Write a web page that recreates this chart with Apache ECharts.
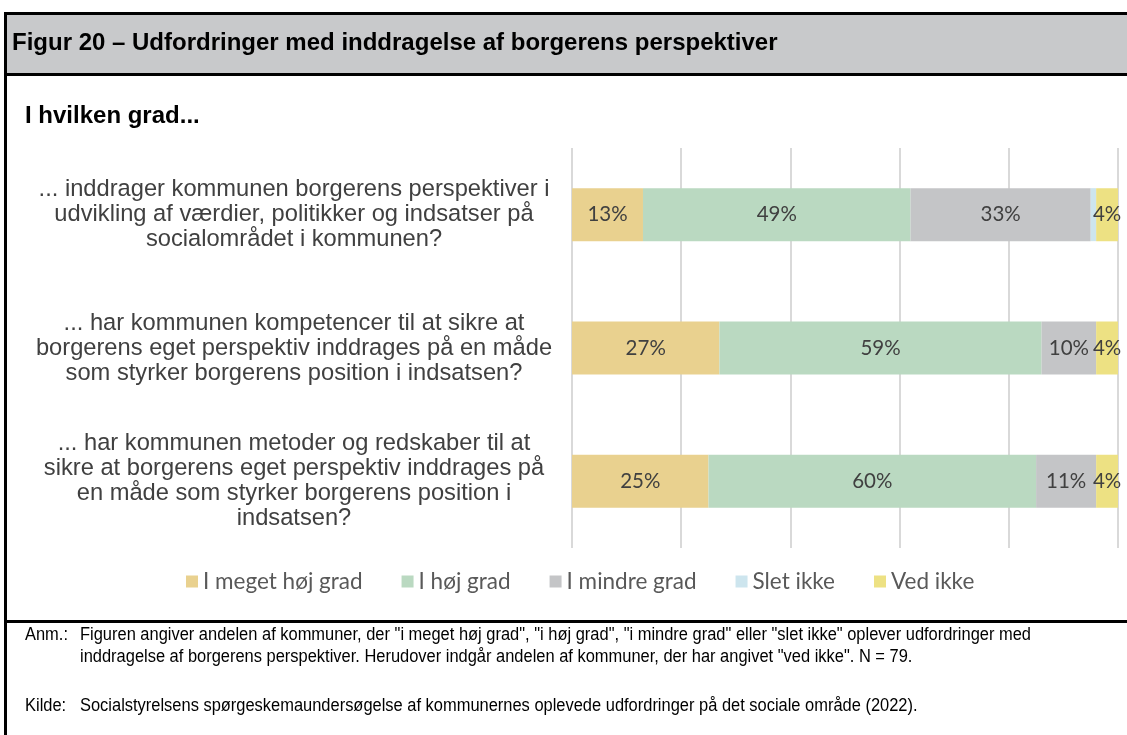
<!DOCTYPE html>
<html>
<head>
<meta charset="utf-8">
<style>
  html, body { margin: 0; padding: 0; background: #fff; }
  #chart-container { width: 1127px; height: 735px; }
</style>
<script src="https://cdn.jsdelivr.net/npm/echarts@6/dist/echarts.min.js"></script>
</head>
<body>
<div id="chart-container"></div>
<script>
var questions = [
    '... inddrager kommunen borgerens perspektiver i\nudvikling af værdier, politikker og indsatser på\nsocialområdet i kommunen?',
    '... har kommunen kompetencer til at sikre at\nborgerens eget perspektiv inddrages på en måde\nsom styrker borgerens position i indsatsen?',
    '... har kommunen metoder og redskaber til at\nsikre at borgerens eget perspektiv inddrages på\nen måde som styrker borgerens position i\nindsatsen?'
];
var seriesNames = ['I meget høj grad', 'I høj grad', 'I mindre grad', 'Slet ikke', 'Ved ikke'];
var megetHoej = [13, 27, 25];
var hoej = [49, 59, 60];
var mindre = [33, 10, 11];
var sletIkke = [1, 0, 0];
var vedIkke = [4, 4, 4];
var seriesValues = [megetHoej, hoej, mindre, sletIkke, vedIkke];
var colors = ['#E9D18F', '#BAD9C1', '#C4C5C7', '#CDE5EE', '#EDE183'];

var dom = document.getElementById('chart-container');
var myChart = echarts.init(dom, null, { renderer: 'canvas' });

var series = seriesNames.map(function (name, i) {
    return {
        name: name,
        type: 'bar',
        stack: 'total',
        barWidth: 53,
        data: seriesValues[i],
        itemStyle: { color: colors[i] },
        label: {
            show: true,
            position: 'inside',
            fontFamily: 'Lato',
            fontSize: 20.5,
            color: '#404040',
            formatter: function (p) { return p.value >= 2 ? p.value + '%' : ''; }
        }
    };
});

// footnote text, drawn a bit narrow like the original
function note(x, y, text) {
    return {
        type: 'text', x: x, y: y, scaleX: 0.94,
        style: { text: text, x: 0, y: 0, fontFamily: 'Liberation Sans', fontSize: 17.5, lineHeight: 22, fill: '#000' }
    };
}

var option = {
    animation: false,
    color: colors,
    grid: { left: 572, right: 9, top: 148, bottom: 187 },
    legend: {
        left: 181,
        top: 565,
        itemWidth: 12,
        itemHeight: 12,
        itemGap: 39,
        icon: 'rect',
        textStyle: { fontFamily: 'Lato', fontSize: 22.5, color: '#595959' },
        data: seriesNames
    },
    xAxis: {
        type: 'value',
        min: 0,
        max: 100,
        interval: 20,
        axisLabel: { show: false },
        axisLine: { show: false },
        axisTick: { show: false },
        splitLine: { lineStyle: { color: '#D9D9D9', width: 2 } }
    },
    yAxis: {
        type: 'category',
        inverse: true,
        data: questions,
        axisLine: { show: false },
        axisTick: { show: false },
        axisLabel: {
            align: 'center',
            margin: 278,
            fontFamily: 'Liberation Sans',
            fontSize: 23.7,
            lineHeight: 25,
            color: '#404040'
        }
    },
    graphic: [
        { type: 'rect', shape: { x: 5, y: 13, width: 1130, height: 61 }, style: { fill: '#C8C9CB' } },
        { type: 'rect', shape: { x: 4, y: 12, width: 1130, height: 3 }, style: { fill: '#000' } },
        { type: 'rect', shape: { x: 4, y: 73, width: 1130, height: 3 }, style: { fill: '#000' } },
        { type: 'rect', shape: { x: 4, y: 12, width: 3, height: 730 }, style: { fill: '#000' } },
        { type: 'rect', shape: { x: 4, y: 620, width: 1130, height: 3 }, style: { fill: '#000' } },
        { type: 'text', left: 12, top: 31, style: { text: 'Figur 20 – Udfordringer med inddragelse af borgerens perspektiver', fontFamily: 'Liberation Sans', fontWeight: 'bold', fontSize: 24, fill: '#000' } },
        { type: 'text', left: 25, top: 104, style: { text: 'I hvilken grad...', fontFamily: 'Liberation Sans', fontWeight: 'bold', fontSize: 24, fill: '#000' } },
        note(25, 624, 'Anm.:'),
        note(80, 624, 'Figuren angiver andelen af kommuner, der "i meget høj grad", "i høj grad", "i mindre grad" eller "slet ikke" oplever udfordringer med\ninddragelse af borgerens perspektiver. Herudover indgår andelen af kommuner, der har angivet "ved ikke". N = 79.'),
        note(25, 695, 'Kilde:'),
        note(80, 695, 'Socialstyrelsens spørgeskemaundersøgelse af kommunernes oplevede udfordringer på det sociale område (2022).')
    ],
    series: series
};

myChart.setOption(option);
window.addEventListener('resize', myChart.resize);
</script>
</body>
</html>
